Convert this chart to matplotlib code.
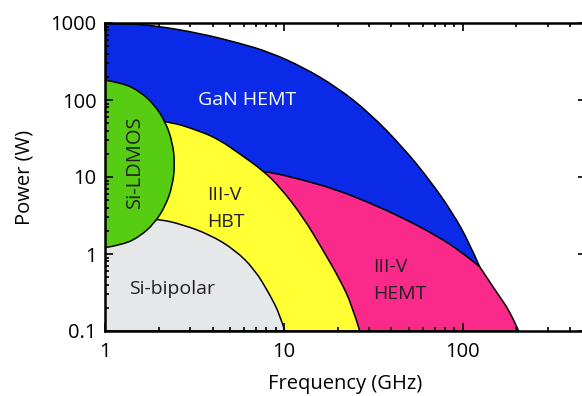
import matplotlib
matplotlib.use("Agg")
import numpy as np
import matplotlib.pyplot as plt
from matplotlib.path import Path
from matplotlib.patches import PathPatch
from matplotlib.ticker import LogLocator, FixedLocator, FixedFormatter, NullFormatter

plt.rcParams['font.family'] = ['Open Sans', 'DejaVu Sans']

# ---- boundary points (frequency GHz, power W) ----
# each region: a curved outline (read points) followed by straight closing corners
gan_curve_f = [1, 1.38, 1.90, 3.39, 5.68, 8.35, 12.8, 19.8, 30.2, 46.2, 65.4, 87.9, 109, 124.5]
gan_curve_p = [1000, 970, 925, 736, 546, 417, 267, 147, 67.7, 24.5, 9.17, 3.43, 1.40, 0.685]
gan_close_f = [124.5, 1]
gan_close_p = [0.1, 0.1]

hemt_top_f = [1, 4.0, 7.63, 12.8, 19.8, 30.2, 46.2, 71.6, 100, 124.5]
hemt_top_p = [13.5, 13.0, 12.2, 9.17, 6.81, 4.62, 2.95, 1.73, 1.04, 0.685]
hemt_out_f = [124.5, 141.5, 161, 176, 190, 206]
hemt_out_p = [0.685, 0.438, 0.280, 0.208, 0.150, 0.1]
hemt_close_f = [1]
hemt_close_p = [0.1]

hbt_curve_f = [1, 2.164, 3.39, 4.39, 5.68, 7.63, 9.50, 12.8, 16.5, 20.6, 24.0, 26.6]
hbt_curve_p = [66, 54.9, 39.6, 30.2, 19.9, 12.2, 7.44, 3.04, 1.14, 0.465, 0.22, 0.1]
hbt_close_f = [1]
hbt_close_p = [0.1]

bip_curve_f = [1, 1.977, 2.73, 3.86, 5.32, 6.89, 8.35, 9.50, 10.13]
bip_curve_p = [3.3, 2.87, 2.40, 1.78, 1.137, 0.626, 0.297, 0.164, 0.1]
bip_close_f = [1]
bip_close_p = [0.1]

ldmos_curve_f = [1, 1.262, 1.569, 1.890, 2.181, 2.386, 2.46, 2.386, 2.181, 1.890, 1.569, 1.262, 1]
ldmos_curve_p = [181, 166, 129, 86.9, 51.7, 28.2, 14.8, 7.74, 4.22, 2.51, 1.69, 1.32, 1.21]

colors = {'gan': '#0a2ae8', 'hemt': '#fa2a8a', 'hbt': '#ffff33', 'bip': '#e6e7e9', 'ldmos': '#56cc12'}

xticks = [1, 10, 100]
xticklabels = ['1', '10', '100']
yticks = [0.1, 1, 10, 100, 1000]
yticklabels = ['0.1', '1', '10', '100', '1000']


def smooth_segment(fs, ps):
    """Quadratic B-spline through read points (drawn as Bezier pieces in log space)."""
    pts = list(zip(fs, ps))
    verts, codes = [], []
    if len(pts) < 3:
        for p in pts[1:]:
            verts.append(p); codes.append(Path.LINETO)
        return verts, codes
    for i in range(1, len(pts) - 1):
        ctrl = pts[i]
        if i < len(pts) - 2:
            nxt = pts[i + 1]
            end = (np.sqrt(ctrl[0] * nxt[0]), np.sqrt(ctrl[1] * nxt[1]))
        else:
            end = pts[-1]
        verts += [ctrl, end]
        codes += [Path.CURVE3, Path.CURVE3]
    return verts, codes


def region_path(curves, close_f, close_p):
    verts = [(curves[0][0][0], curves[0][1][0])]
    codes = [Path.MOVETO]
    for fs, ps in curves:
        v, c = smooth_segment(fs, ps)
        verts += v; codes += c
    for f, p in zip(close_f, close_p):
        verts.append((f, p)); codes.append(Path.LINETO)
    verts.append(verts[0]); codes.append(Path.CLOSEPOLY)
    return Path(verts, codes)


fig = plt.figure(figsize=(5.82, 3.96), dpi=100)
ax = fig.add_axes([105/582, 65/396, 481/582, 308/396])
ax.set_xscale('log')
ax.set_yscale('log')
ax.set_xlim(1, 490)
ax.set_ylim(0.1, 1000)

region_defs = [
    ([(gan_curve_f, gan_curve_p)], gan_close_f, gan_close_p, colors['gan']),
    ([(hemt_top_f, hemt_top_p), (hemt_out_f, hemt_out_p)], hemt_close_f, hemt_close_p, colors['hemt']),
    ([(hbt_curve_f, hbt_curve_p)], hbt_close_f, hbt_close_p, colors['hbt']),
    ([(bip_curve_f, bip_curve_p)], bip_close_f, bip_close_p, colors['bip']),
    ([(ldmos_curve_f, ldmos_curve_p)], [], [], colors['ldmos']),
]
for i, (curves, cf, cp, col) in enumerate(region_defs):
    patch = PathPatch(region_path(curves, cf, cp), facecolor=col, edgecolor='black',
                      linewidth=1.1, zorder=1 + i * 0.1)
    ax.add_patch(patch)

ax.xaxis.set_major_locator(FixedLocator(xticks))
ax.xaxis.set_major_formatter(FixedFormatter(xticklabels))
ax.yaxis.set_major_locator(FixedLocator(yticks))
ax.yaxis.set_major_formatter(FixedFormatter(yticklabels))
ax.xaxis.set_minor_locator(LogLocator(base=10, subs=range(2, 10)))
ax.yaxis.set_minor_locator(LogLocator(base=10, subs=range(2, 10)))
ax.xaxis.set_minor_formatter(NullFormatter())
ax.yaxis.set_minor_formatter(NullFormatter())
ax.tick_params(which='both', direction='in', top=True, right=True, width=1.2, color='black')
ax.tick_params(which='major', length=5.5, labelsize=14.5)
ax.tick_params(axis='x', which='major', pad=8)
ax.tick_params(axis='y', which='major', pad=6)
ax.tick_params(which='minor', length=3)
for s in ax.spines.values():
    s.set_linewidth(1.8)
    s.set_zorder(5)

ax.set_xlabel('Frequency (GHz)', fontsize=14.5)
ax.set_ylabel('Power (W)', fontsize=14.5)
ax.xaxis.set_label_coords(0.5, -0.14)
ax.yaxis.set_label_coords(-0.146, 0.5)

dark = '#231f20'
fs = 14
ax.text(6.2, 100, 'GaN HEMT', color='white', ha='center', va='center', fontsize=fs, zorder=6)
ax.text(1.47, 15.7, 'Si-LDMOS', color=dark, ha='center', va='center', rotation=90, fontsize=14.5, zorder=6)
ax.text(3.71, 5.87, 'III-V', color=dark, ha='left', va='center', fontsize=fs, zorder=6)
ax.text(3.71, 2.62, 'HBT', color=dark, ha='left', va='center', fontsize=fs, zorder=6)
ax.text(31.4, 0.685, 'III-V', color=dark, ha='left', va='center', fontsize=fs, zorder=6)
ax.text(31.4, 0.306, 'HEMT', color=dark, ha='left', va='center', fontsize=fs, zorder=6)
ax.text(2.38, 0.356, 'Si-bipolar', color=dark, ha='center', va='center', fontsize=fs, zorder=6)

fig.savefig('out.png', dpi=100)
